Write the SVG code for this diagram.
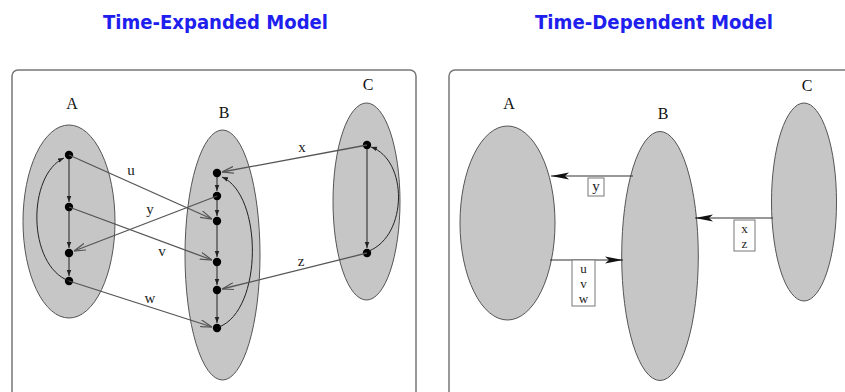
<svg xmlns="http://www.w3.org/2000/svg" width="845" height="392" viewBox="0 0 845 392">
<style>
.title{font-family:"DejaVu Sans","Liberation Sans",sans-serif;font-weight:bold;font-size:19px;fill:#2020ee}
.panel{fill:#fff;stroke:#777;stroke-width:1.5}
.ell{fill:#c6c6c6;stroke:#555;stroke-width:1}
.lbl{font-family:"Liberation Serif","Times New Roman",serif;font-size:16px;fill:#111;text-anchor:middle}
.el{font-family:"Liberation Serif","Times New Roman",serif;font-size:15px;fill:#222;text-anchor:middle}
.bl{font-family:"Liberation Serif","Times New Roman",serif;font-size:13px;fill:#222;text-anchor:middle}
.node{fill:#000}
.inner{stroke:#222;stroke-width:1;fill:none}
.cross{stroke:#555;stroke-width:1.3;fill:none}
.dep{stroke:#333;stroke-width:1.2;fill:none}
.box{fill:#fff;stroke:#777;stroke-width:1}
</style>
<defs>
<marker id="small" viewBox="0 0 8 8" refX="8" refY="4" markerWidth="6" markerHeight="6" orient="auto" markerUnits="userSpaceOnUse">
<path d="M0,1 L8,4 L0,7 Z" fill="#222"/>
</marker>
<marker id="open" viewBox="0 0 12 8" refX="12" refY="4" markerWidth="12" markerHeight="8" orient="auto" markerUnits="userSpaceOnUse">
<path d="M0,0.5 L12,4 L0,7.5" fill="none" stroke="#555" stroke-width="1.2"/>
</marker>
<marker id="solid" viewBox="0 0 18 8" refX="18" refY="4" markerWidth="18" markerHeight="8" orient="auto" markerUnits="userSpaceOnUse">
<path d="M0,0.5 L18,4 L0,7.5 L4,4 Z" fill="#111"/>
</marker>
</defs>
<rect width="845" height="392" fill="#fff"/>
<text class="title" x="103" y="29" textLength="225" lengthAdjust="spacingAndGlyphs">Time-Expanded Model</text>
<text class="title" x="535" y="29" textLength="238" lengthAdjust="spacingAndGlyphs">Time-Dependent Model</text>

<g id="panel-expanded">
<rect class="panel" x="12" y="70" width="404" height="340" rx="6"/>
</g>
<g id="panel-dependent">
<rect class="panel" x="449" y="70" width="410" height="340" rx="6"/>
</g>

<!-- Time-Expanded nodes -->
<g id="te-A">
<ellipse class="ell" cx="69" cy="221.5" rx="46" ry="96.5"/>
<text class="lbl" x="72" y="109">A</text>
<circle class="node" cx="69" cy="155" r="4.2"/>
<circle class="node" cx="69" cy="207" r="4.2"/>
<circle class="node" cx="69" cy="253" r="4.2"/>
<circle class="node" cx="69" cy="281" r="4.2"/>
</g>
<g id="te-B">
<ellipse class="ell" cx="222.5" cy="255" rx="37.5" ry="125"/>
<text class="lbl" x="224" y="118">B</text>
<circle class="node" cx="217" cy="173" r="4.2"/>
<circle class="node" cx="217" cy="196" r="4.2"/>
<circle class="node" cx="217" cy="221" r="4.2"/>
<circle class="node" cx="217" cy="262" r="4.2"/>
<circle class="node" cx="217" cy="290" r="4.2"/>
<circle class="node" cx="217" cy="328" r="4.2"/>
</g>
<g id="te-C">
<ellipse class="ell" cx="366.5" cy="201.5" rx="33.5" ry="98.5"/>
<text class="lbl" x="368" y="90">C</text>
<circle class="node" cx="367" cy="145" r="4.2"/>
<circle class="node" cx="367" cy="253" r="4.2"/>
</g>

<g id="te-connectors">
<path class="inner" marker-end="url(#small)" d="M69,159 L69,202"/>
<path class="inner" marker-end="url(#small)" d="M69,211 L69,248"/>
<path class="inner" marker-end="url(#small)" d="M69,257 L69,276"/>
<path class="inner" marker-end="url(#small)" d="M69,281 C27,265 27,175 64,158"/>
<path class="inner" marker-end="url(#small)" d="M217,177 L217,191"/>
<path class="inner" marker-end="url(#small)" d="M217,200 L217,216"/>
<path class="inner" marker-end="url(#small)" d="M217,225 L217,257"/>
<path class="inner" marker-end="url(#small)" d="M217,266 L217,285"/>
<path class="inner" marker-end="url(#small)" d="M217,294 L217,323"/>
<path class="inner" marker-end="url(#small)" d="M219,327 C263,310 263,195 222,177"/>
<path class="inner" marker-end="url(#small)" d="M367,149 L367,248"/>
<path class="inner" marker-end="url(#small)" d="M369,251 C408,235 408,160 371,147"/>
<path class="cross" marker-end="url(#open)" d="M69,155 L212,219"/>
<path class="cross" marker-end="url(#open)" d="M69,207 L212,260"/>
<path class="cross" marker-end="url(#open)" d="M217,196 L74,251"/>
<path class="cross" marker-end="url(#open)" d="M69,281 L212,327"/>
<path class="cross" marker-end="url(#open)" d="M367,145 L222,172"/>
<path class="cross" marker-end="url(#open)" d="M367,253 L222,289"/>
<text class="el" x="131" y="175">u</text>
<text class="el" x="150" y="214">y</text>
<text class="el" x="162" y="256">v</text>
<text class="el" x="150" y="303">w</text>
<text class="el" x="302" y="152">x</text>
<text class="el" x="301" y="266">z</text>
</g>

<g id="td-A">
<ellipse class="ell" cx="507.5" cy="223" rx="47.5" ry="97"/>
<text class="lbl" x="509" y="109">A</text>
</g>
<g id="td-B">
<ellipse class="ell" cx="660" cy="256" rx="38.3" ry="124.5"/>
<text class="lbl" x="663" y="119">B</text>
</g>
<g id="td-C">
<ellipse class="ell" cx="804" cy="202" rx="32.5" ry="99"/>
<text class="lbl" x="807" y="91">C</text>
</g>

<g id="td-connectors">
<path class="dep" marker-end="url(#solid)" d="M633,176 L551,176"/>
<path class="dep" marker-end="url(#solid)" d="M550,260 L623,260"/>
<path class="dep" marker-end="url(#solid)" d="M773,218 L695,218"/>
<rect class="box" x="588" y="178" width="16" height="18"/>
<text class="el" x="596" y="191">y</text>
<rect class="box" x="572" y="260" width="23" height="46"/>
<text class="bl" x="583.5" y="273">u</text>
<text class="bl" x="583.5" y="288">v</text>
<text class="bl" x="583.5" y="303">w</text>
<rect class="box" x="734" y="220" width="21" height="31"/>
<text class="bl" x="744.5" y="233">x</text>
<text class="bl" x="744.5" y="248">z</text>
</g>
</svg>
